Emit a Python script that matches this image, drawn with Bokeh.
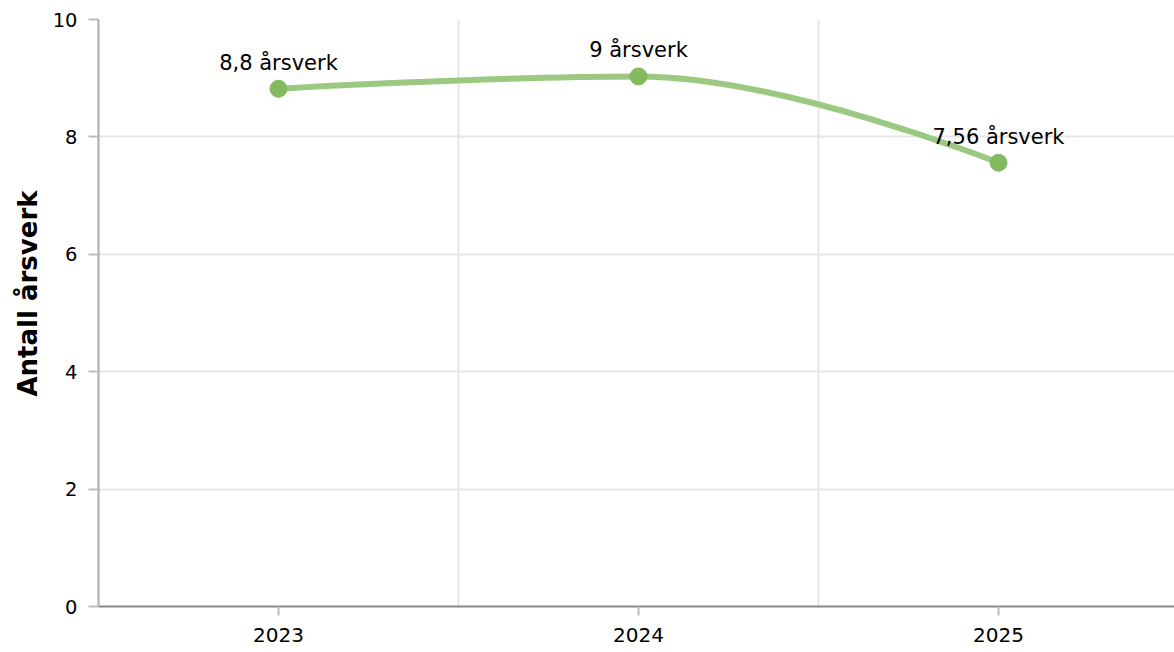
from bokeh.plotting import figure
from bokeh.models import Range1d, FixedTicker, ColumnDataSource, Title
from bokeh.core.properties import value
from bokeh.embed import file_html
from bokeh.resources import INLINE

# ---- data ----
years = ["2023", "2024", "2025"]
aarsverk = [8.82, 9.03, 7.56]
labels = ["8,8 årsverk", "9 årsverk", "7,56 årsverk"]
y_ticks = [0, 2, 4, 6, 8, 10]
y_title = "Antall årsverk"

FONT = "DejaVu Sans"
POINT_COLOR = "#83b95f"
LINE_COLOR = "#9bc981"

xs = list(range(len(years)))

# Highcharts-style spline control points
def spline_segments(x, y, smoothing=1.5):
    n = len(x)
    left = [None] * n
    right = [None] * n
    denom = smoothing + 1
    for i in range(1, n - 1):
        lx, ly = x[i - 1], y[i - 1]
        nx, ny = x[i + 1], y[i + 1]
        px, py = x[i], y[i]
        lcx = (smoothing * px + lx) / denom
        lcy = (smoothing * py + ly) / denom
        rcx = (smoothing * px + nx) / denom
        rcy = (smoothing * py + ny) / denom
        if rcx != lcx:
            corr = ((rcy - lcy) * (rcx - px)) / (rcx - lcx) + py - rcy
            lcy += corr
            rcy += corr
        if lcy > ly and lcy > py:
            lcy = max(ly, py)
            rcy = 2 * py - lcy
        elif lcy < ly and lcy < py:
            lcy = min(ly, py)
            rcy = 2 * py - lcy
        if rcy > ny and rcy > py:
            rcy = max(ny, py)
            lcy = 2 * py - rcy
        elif rcy < ny and rcy < py:
            rcy = min(ny, py)
            lcy = 2 * py - rcy
        left[i] = (lcx, lcy)
        right[i] = (rcx, rcy)
    seg = dict(x0=[], y0=[], x1=[], y1=[], cx0=[], cy0=[], cx1=[], cy1=[])
    for i in range(1, n):
        c0 = right[i - 1] or (x[i - 1], y[i - 1])
        c1 = left[i] or (x[i], y[i])
        seg["x0"].append(x[i - 1]); seg["y0"].append(y[i - 1])
        seg["x1"].append(x[i]); seg["y1"].append(y[i])
        seg["cx0"].append(c0[0]); seg["cy0"].append(c0[1])
        seg["cx1"].append(c1[0]); seg["cy1"].append(c1[1])
    return seg

W, H = 1174, 652
BL, BT, BB = 98, 19, 46
band_px = 360
x_end = -0.5 + (W - BL) / band_px

p = figure(width=W, height=H, output_backend="svg", toolbar_location=None,
           x_range=Range1d(-0.5, x_end), y_range=Range1d(0, 10),
           min_border_left=BL, min_border_right=0, min_border_top=BT,
           min_border_bottom=BB)
p.outline_line_color = None
p.background_fill_color = "white"
p.border_fill_color = "white"

# grid
p.ygrid.ticker = FixedTicker(ticks=y_ticks)
p.ygrid.grid_line_color = "#e6e6e6"
p.ygrid.grid_line_width = 2
p.xgrid.ticker = FixedTicker(ticks=[i + 0.5 for i in range(len(years) - 1)])
p.xgrid.grid_line_color = "#e6e6e6"
p.xgrid.grid_line_width = 2

# y axis
ya = p.yaxis[0]
ya.ticker = FixedTicker(ticks=y_ticks)
ya.major_label_text_font = FONT
ya.major_label_text_font_size = "19.5px"
ya.major_label_text_color = "black"
ya.major_label_standoff = 11
ya.axis_line_color = "#aaaaaa"
ya.axis_line_width = 2
ya.major_tick_line_color = "#bbbbbb"
ya.major_tick_line_width = 2
ya.major_tick_out = 10
ya.major_tick_in = 0
ya.minor_tick_line_color = None

# y axis title (placed as a side title so it can sit like the original)
p.add_layout(Title(text=y_title, align="right", offset=171, standoff=14,
                   text_font=FONT, text_font_style="bold",
                   text_font_size="26px", text_color="black"), "left")

# x axis
xa = p.xaxis[0]
xa.ticker = FixedTicker(ticks=xs)
xa.major_label_overrides = {i: y for i, y in zip(xs, years)}
xa.major_label_text_font = FONT
xa.major_label_text_font_size = "20px"
xa.major_label_text_color = "black"
xa.major_label_standoff = 12
xa.axis_line_color = "#888888"
xa.axis_line_width = 2
xa.major_tick_line_color = "#bbbbbb"
xa.major_tick_line_width = 2
xa.major_tick_out = 9
xa.major_tick_in = 0
xa.minor_tick_line_color = None

# spline line
seg = spline_segments(xs, aarsverk)
p.bezier(x0="x0", y0="y0", x1="x1", y1="y1", cx0="cx0", cy0="cy0",
         cx1="cx1", cy1="cy1", source=ColumnDataSource(seg),
         line_color=LINE_COLOR, line_width=6, line_cap="round")

src = ColumnDataSource(dict(x=xs, y=aarsverk, label=labels))
p.scatter("x", "y", source=src, size=17, fill_color=POINT_COLOR,
          line_color=POINT_COLOR)
p.text("x", "y", text="label", source=src, text_font=value(FONT),
       text_font_size="21px", text_color="black", text_align="center",
       text_baseline="alphabetic", y_offset=-26)

open("out.html", "w").write(file_html(p, INLINE))
